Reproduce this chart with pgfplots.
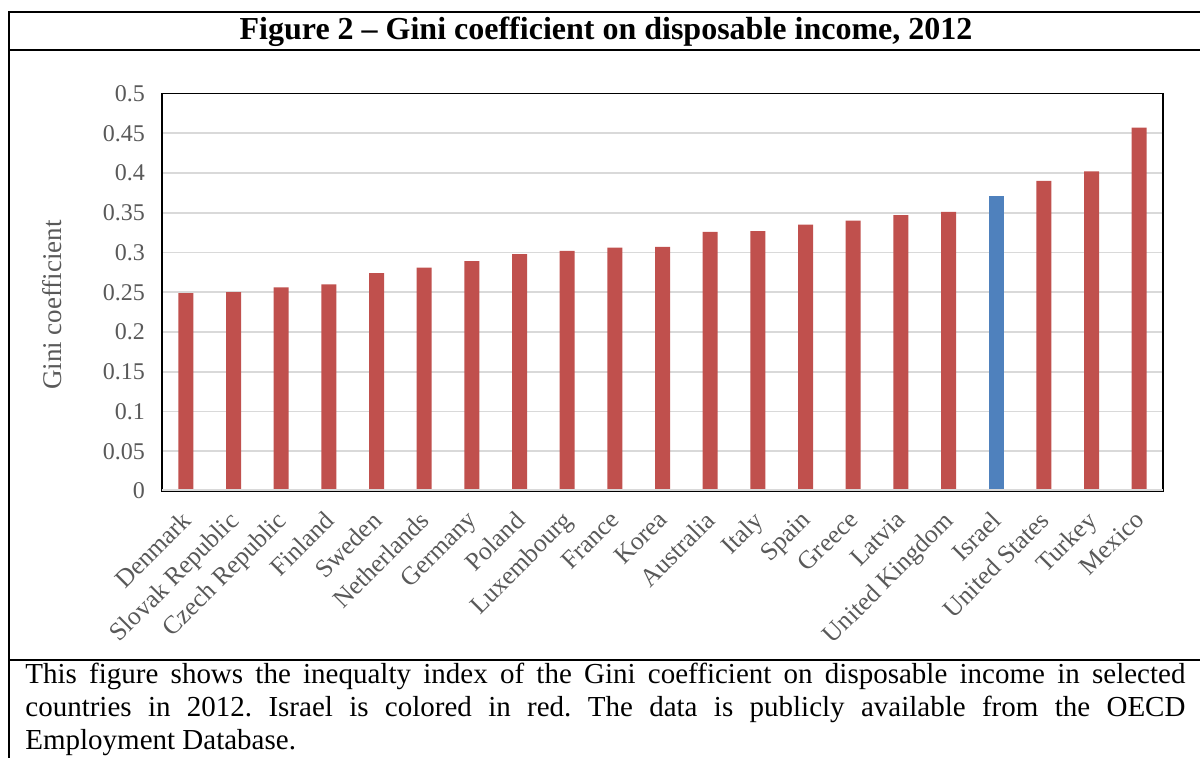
\documentclass[border=0pt]{standalone}
\usepackage{fontspec}
\setmainfont{Liberation Serif}
\usepackage{pgfplots}
\pgfplotsset{compat=1.18}
\definecolor{barred}{HTML}{C0504D}
\definecolor{barblue}{HTML}{4F81BD}
\definecolor{gridgray}{HTML}{D9D9D9}
\definecolor{labgray}{HTML}{595959}
\begin{document}
\frenchspacing
\begin{tikzpicture}[x=0.5pt,y=0.5pt]
% picture coordinates: X = pixel x, Y = 758 - pixel y
\path[use as bounding box] (0,0) rectangle (1200,758);
% frame
\draw[line width=1pt] (9,746) -- (1200,746);
\draw[line width=1pt] (9,746.5) -- (9,0);
\draw[line width=0.7pt] (9,708) -- (1200,708);
\draw[line width=1pt] (9,98) -- (1200,98);
% title
\node[font=\bfseries\fontsize{16}{18}\selectfont, inner sep=0] at (606,726) {Figure 2 -- Gini coefficient on disposable income, 2012};
% caption
\node[anchor=north west, inner sep=0, text width=580pt, align=justify,
      font=\fontsize{14.5}{16.5}\selectfont] at (25,95)
  {\frenchspacing This figure shows the inequalty index of the Gini coefficient on disposable income in selected\linebreak countries in 2012. Israel is colored in red. The data is publicly available from the OECD\linebreak Employment Database.};
\begin{axis}[
  at={(81pt,133.5pt)}, anchor=south west,
  scale only axis, width=500.5pt, height=198.75pt,
  xmin=-0.5, xmax=20.5, ymin=0, ymax=0.5,
  ybar, bar width=7.5pt,
  xtick={0,...,20},
  xticklabels={Denmark,Slovak Republic,Czech Republic,Finland,Sweden,Netherlands,Germany,Poland,Luxembourg,France,Korea,Australia,Italy,Spain,Greece,Latvia,United Kingdom,Israel,United States,Turkey,Mexico},
  xticklabel style={xshift=-3pt, yshift=-9pt, rotate=45, anchor=north east, font=\fontsize{12.8}{14}\selectfont, text=labgray, inner sep=0pt},
  ytick={0,0.05,0.1,0.15,0.2,0.25,0.3,0.35,0.4,0.45,0.5},
  yticklabels={0,0.05,0.1,0.15,0.2,0.25,0.3,0.35,0.4,0.45,0.5},
  yticklabel style={font=\fontsize{12}{14}\selectfont, text=labgray, xshift=-5pt},
  major tick length=0pt,
  ymajorgrids, grid style={gridgray, line width=0.8pt},
  axis line style={black, line width=0.8pt},
  ylabel={Gini coefficient},
  every axis y label/.style={at={(axis description cs:-0.11,0.468)}, rotate=90, anchor=center, font=\fontsize{13.5}{15}\selectfont, text=labgray},
]
\addplot[fill=barred, draw=none, bar shift=0pt] coordinates {
(0,0.249) (1,0.250) (2,0.256) (3,0.260) (4,0.274) (5,0.281) (6,0.289) (7,0.298)
(8,0.302) (9,0.306) (10,0.307) (11,0.326) (12,0.327) (13,0.335) (14,0.340)
(15,0.347) (16,0.351) (18,0.390) (19,0.402) (20,0.457)};
\addplot[fill=barblue, draw=none, bar shift=0pt] coordinates {(17,0.371)};
\draw[gridgray, line width=1.5pt] (rel axis cs:0,0) -- (rel axis cs:1,0);
\end{axis}
\end{tikzpicture}
\end{document}
